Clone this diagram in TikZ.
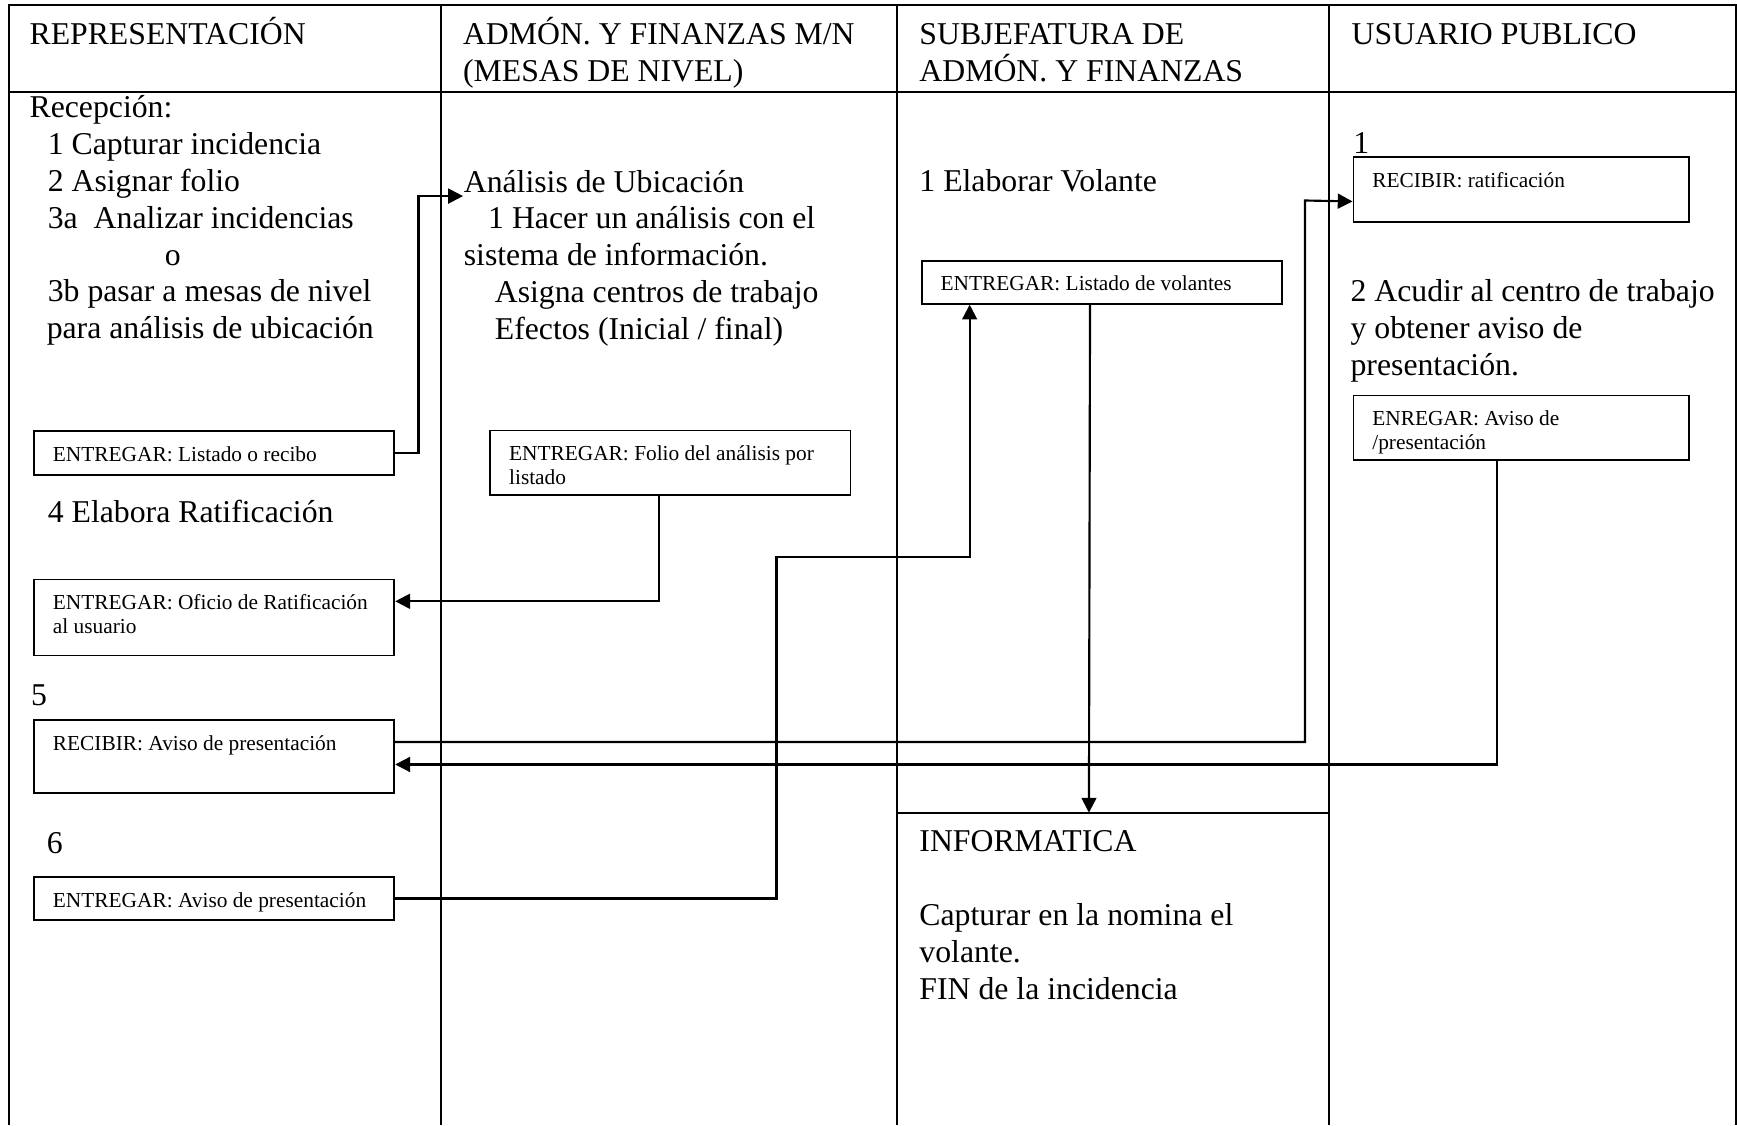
\documentclass[tikz,border=0pt]{standalone}
\usepackage{fontspec}
\setmainfont{Liberation Serif}
\usepackage{tikz}
\usetikzlibrary{arrows.meta}
\frenchspacing

\newcommand{\laneFont}{\fontsize{8.15pt}{9.45pt}\selectfont}
\newcommand{\boxFont}{\fontsize{5.48pt}{6.12pt}\selectfont}

\tikzset{
	lane/.style={line width=0.5pt},
	txt/.style={anchor=base west, inner sep=0pt, font=\laneFont, align=left, execute at begin node={\spaceskip=0pt\xspaceskip=0pt\relax}},
	docbox/.style={draw, line width=0.45pt, anchor=north west, inner xsep=0.17cm, inner ysep=0pt, text height=0.27cm, font=\boxFont, align=left, execute at begin node={\spaceskip=0pt\xspaceskip=0pt\relax}},
	flow/.style={->, >={Triangle[length=3.8pt, width=3.8pt]}, line width=0.55pt}
}

\begin{document}
\begin{tikzpicture}[x=0.01cm, y=-0.01cm]
				\useasboundingbox (0, 0) rectangle (1568, 1016);
				\draw[lane] (8, 1016) -- (8, 4.5) -- (1567, 4.5) -- (1567, 1016);
				\draw[lane] (8, 83) -- (1567, 83);
				\draw[lane] (398, 4.5) -- (398, 1016);
				\draw[lane] (810, 4.5) -- (810, 1016);
				\draw[lane] (1200, 4.5) -- (1200, 1016);
				\draw[lane] (810, 733.6) -- (1200, 733.6);
				\node[txt] (hRep)at(26, 40.3) {REPRESENTACIÓN};
				\node[txt, text width=3.85cm] (hAdm)at(417.3, 40.3) {ADMÓN. Y FINANZAS M/N\\(MESAS DE NIVEL)};
				\node[txt, text width=3.6cm] (hSub)at(829.3, 40.3) {SUBJEFATURA DE\\ADMÓN. Y FINANZAS};
				\node[txt] (hUsu)at(1219.5, 40.3) {USUARIO PUBLICO};
				\node[txt, text width=3.6cm] (recep)at(26, 106.4) {Recepción:\\\hspace*{0.165cm}1 Capturar incidencia\\\hspace*{0.165cm}2 Asignar folio\\\hspace*{0.165cm}3a~~Analizar incidencias\\\hspace*{1.22cm}o\\\hspace*{0.165cm}3b pasar a mesas de nivel\\\hspace*{0.155cm}para análisis de ubicación};
				\node[txt] (paso4)at(42.5, 471.3) {4 Elabora Ratificación};
				\node[txt] (paso5)at(27.5, 637.3) {5};
				\node[txt] (paso6)at(41.6, 770.6) {6};
				\node[txt, text width=3.85cm] (ubic)at(418, 173.4) {Análisis de Ubicación\\\hspace*{0.22cm}1 Hacer un análisis con el\\sistema de información.\\\hspace*{0.28cm}Asigna centros de trabajo\\\hspace*{0.28cm}Efectos (Inicial / final)};
				\node[txt] (volante)at(829.3, 172.5) {1 Elaborar Volante};
				\node[txt, text width=3.6cm] (info)at(829.3, 769) {INFORMATICA\\[0.332cm]Capturar en la nomina el\\volante.\\FIN de la incidencia};
				\node[txt] (uno)at(1221, 138.6) {1};
				\node[txt, text width=3.45cm] (acudir)at(1218.5, 272.4) {2 Acudir al centro de trabajo\\y obtener aviso de\\presentación.};
				\node[docbox, text width=2.91cm, text depth=0.122cm] (recibo)at(30, 388.5) {ENTREGAR: Listado o recibo};
				\node[docbox, text width=2.91cm, text depth=0.416cm] (oficio)at(30, 522.4) {ENTREGAR: Oficio de Ratificación\\al usuario};
				\node[docbox, text width=2.91cm, text depth=0.384cm] (recibir5)at(30, 649.3) {RECIBIR: Aviso de presentación};
				\node[docbox, text width=2.91cm, text depth=0.114cm] (aviso6)at(30, 791.1) {ENTREGAR: Aviso de presentación};
				\node[docbox, text width=2.91cm, text depth=0.311cm] (folio)at(441.8, 387.8) {ENTREGAR: Folio del análisis por\\listado};
				\node[docbox, text width=2.91cm, text depth=0.117cm] (volantes)at(831.3, 234.7) {ENTREGAR: Listado de volantes};
				\node[docbox, text width=2.69cm, text depth=0.317cm] (ratif)at(1221, 141.2) {RECIBIR: ratificación};
				\node[docbox, text width=2.69cm, text depth=0.311cm] (aviso2)at(1221, 356.2) {ENREGAR: Aviso de\\/presentación};
				\coordinate (infoTop)at(983, 733.6);
				\draw[flow] (recibo.east) -- ++(21, 0) |- ([yshift=-0.036cm]ubic.base west);
				\draw[flow] ([xshift=-0.104cm]folio.south) |- ([yshift=0.147cm]oficio.east);
				\draw[flow] (aviso6.east) -| (701, 503) -| ([xshift=0.44cm]volantes.south west);
				\draw[flow] ([yshift=0.13cm]recibir5.east) -| (1178, 181) -- ([yshift=-0.105cm]ratif.west);
				\draw[flow] ([xshift=-0.22cm]aviso2.south) |- ([yshift=-0.073cm]recibir5.east);
				\draw[flow] ([xshift=-0.107cm]volantes.south) -- (infoTop);
			\end{tikzpicture}
\end{document}
